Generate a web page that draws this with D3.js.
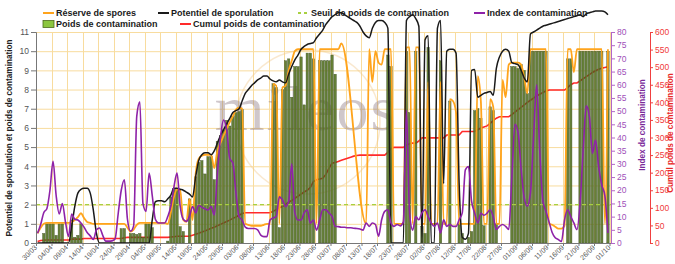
<!DOCTYPE html>
<html>
<head>
<meta charset="utf-8">
<script src="https://cdn.jsdelivr.net/npm/d3@7"></script>
<style>
  body { margin: 0; background: #fff; }
  svg { display: block; font-family: "Liberation Sans", Arial, sans-serif; }
</style>
</head>
<body>
<svg id="chart" width="675" height="264"></svg>
<script>
// daily values from 30/03 (index 0) to 30/09 (index 184)
const startLabel = '30/03/2015';
const tickLabels = ['30/03','04/04','09/04','14/04','19/04','24/04','29/04','04/05','09/05','14/05',
  '19/05','24/05','29/05','03/06','08/06','13/06','18/06','23/06','28/06','03/07',
  '08/07','13/07','18/07','23/07','28/07','02/08','07/08','12/08','17/08','22/08',
  '27/08','01/09','06/09','11/09','16/09','21/09','26/09','01/10'];

const reserveSpores = [
  0.5, 0.8, 1.0, 1.05, 1.05, 1.05, 1.05, 1.05, 1.05, 1.05,
  1.05, 1.1, 1.2, 1.35, 1.55, 1.3, 1.1, 1.05, 1.0, 1.0,
  1.0, 1.0, 1.0, 1.0, 1.0, 1.0, 1.0, 1.0, 1.0, 0.8,
  0.6, 0.7, 0.95, 1.05, 1.05, 1.05, 1.05, 1.05, 1.05, 1.05,
  1.05, 1.05, 1.0, 1.6, 2.4, 2.8, 2.75, 1.2, 1.1, 2.3,
  1.2, 3.6, 4.4, 4.55, 4.6, 4.6, 4.6, 3.9, 4.8, 5.2,
  5.6, 5.95, 6.3, 6.6, 6.95, 7.05, 7.0, 1.0, 0.95, 0.9,
  0.9, 0.9, 0.9, 0.95, 1.0, 1.0, 8.3, 8.2, 1.0, 8.1,
  8.2, 9.0, 9.5, 10.0, 10.1, 10.1, 10.1, 10.1, 10.1, 10.1,
  1.0, 10.1, 10.1, 10.1, 10.1, 10.1, 10.1, 10.1, 10.4, null,
  null, null, null, null, null, null, 1.0, 10.1, 8.4, 10.0,
  9.4, 9.3, 10.1, 10.1, 10.1, 1.0, 1.0, 1.0, 1.0, 10.2,
  10.2, 1.0, 10.2, 10.2, 1.0, 1.0, 8.4, 1.0, 1.0, 1.0,
  8.4, 1.0, 1.0, 7.5, 7.4, 6.8, 1.0, 1.0, 1.0, 1.0,
  1.0, 1.0, 8.7, 7.4, 1.0, 1.0, 7.5, 7.1, 1.0, 1.0,
  8.5, 7.6, 9.3, 9.4, 9.4, 9.4, 9.3, 8.6, 7.8, 10.1,
  10.1, 10.1, 10.1, 10.1, 10.1, 1.0, 0.95, 0.85, 0.75, 0.75,
  0.9, 10.1, 10.1, 8.9, 10.1, 10.1, 10.1, 10.1, 10.1, 10.1,
  10.1, 10.1, 10.1, 1.0, 10.1
];

const potentielSporulation = [
  0, 0, 0, 0, 0, 0, 0, 0, 0, 0,
  0, 0.85, 1.9, 2.6, 2.8, 2.85, 2.85, 2.6, 1.7, 0.5,
  0, 0, 0, 0, 0, 0, 0, 0, 0, 0,
  0, 0, 0, 0, 0, 0, 0, 1.2, 2.15, 2.2,
  2.2, 2.15, 2.3, 2.5, 2.85, 2.85, 2.8, 2.75, 2.65, 2.55,
  2.4, 3.45, 4.3, 4.6, 4.7, 4.7, 4.6, 4.8, 5.2, 5.6,
  5.9, 6.2, 6.5, 6.8, 6.9, 7.0, 7.4, 7.8, 8.0, 8.2,
  8.35, 8.5, 8.6, 8.7, 8.7, 8.55, 8.45, 8.4, 8.5, 8.4,
  8.35, 8.8, 9.2, 9.55, 9.8, 10.1, 10.25, 10.35, 10.4, 10.45,
  10.7, 10.9, 11.1, 11.4, 11.6, 11.8, 11.9, 12.0, 12.0, 11.9,
  11.8, 11.7, 11.6, 11.5, 11.3, 11.0, 10.8, 10.7, 11.2, 11.5,
  11.6, 11.6, 11.5, 11.2, 0, 0, 0, 0, 0, 11.6,
  11.8, 11.9, 11.7, 11.3, 0, 10.6, 10.8, 0, 0, 11.2,
  11.6, 3.1, 10.0, 10.1, 10.1, 9.9, 3.1, 0.3, 0.2, 0.5,
  9.0, 9.05, 7.6, 7.7, 7.8, 7.85, 7.9, 7.7, 9.1, 9.7,
  10.0, 10.1, 10.0, 9.4, 9.35, 9.3, 9.0, 8.6, 8.4, 10.9,
  11.0, 11.1, 11.2, 11.3, 11.35, 11.4, 11.45, 11.5, 11.55, 11.6,
  11.65, 11.7, 11.75, 11.8, 11.85, 11.9, 11.8, 11.95, 12.0, 12.05,
  12.1, 12.1, 12.1, 12.05, 11.9
];

const poidsContamination = [
  0, 0, 0.5, 1.0, 1.0, 1.0, 0.4, 1.0, 1.0, 0,
  0, 1.2, 0.3, 0.4, 1.0, 0, 0, 0, 0, 0,
  0, 0, 0, 0, 0, 0, 0, 0.75, 0.75, 0,
  0.5, 0.5, 0.45, 0.5, 0.3, 1.0, 1.0, 0.8, 0, 0,
  0, 0, 0.1, 2.4, 2.85, 2.8, 0.85, 0.6, 0, 2.3,
  0, 3.45, 4.2, 4.3, 3.6, 4.5, 4.5, 3.3, 5.3, 5.6,
  5.9, 6.4, 6.1, 6.6, 6.8, 6.85, 6.95, 0, 0, 0,
  0, 0, 0, 0, 0, 0, 8.3, 8.1, 0.8, 8.0,
  9.5, 9.6, 7.6, 9.2, 9.2, 9.7, 7.2, 9.9, 9.9, 9.6,
  0, 9.5, 9.5, 9.5, 9.5, 9.8, 8.8, 0, 0, 0,
  0, 0, 0, 0, 0, 0, 0, 0, 0, 0,
  0, 0, 0, 9.8, 9.2, 0, 0, 0, 0, 10.0,
  6.8, 0, 10.0, 0, 0.85, 0.5, 10.2, 0, 0, 0,
  9.5, 0, 0, 7.4, 0, 0, 1.0, 0.5, 0, 0.3,
  0.6, 6.9, 7.0, 6.5, 0.9, 0, 7.1, 6.9, 1.0, 0,
  0, 0, 0, 9.2, 9.2, 9.1, 9.3, 9.0, 7.8, 10.0,
  10.0, 10.0, 10.0, 10.0, 10.0, 0, 0, 0, 0, 0,
  0, 9.6, 9.6, 0, 0, 10.0, 10.0, 10.0, 10.0, 10.0,
  10.0, 10.0, 10.0, 0, 10.0
];

const indexContamination = [
  3.7, 7, 11.5, 13, 20, 31, 18, 11, 15, 8,
  2.5, 11, 9, 8.7, 7.6, 6, 4, 2.7, 1.3, 5,
  5.7, 3, 0.7, 0.7, 0.8, 1.5, 11, 20, 24, 9,
  4.5, 6.5, 48, 53.5, 15, 12, 26.5, 18, 9, 7.6,
  7.6, 7.6, 10, 14, 21.3, 26.5, 14, 9, 8.2, 10,
  13.8, 11.4, 14.4, 13.5, 13, 12.5, 13.8, 10.6, 26, 40,
  46.6, 43, 32, 30.3, 19, 10, 8.7, 6, 5.5, 5.5,
  5.5, 5, 3, 2.4, 2.4, 8.7, 9.5, 10, 17.5, 16.3,
  13.8, 15.7, 30, 11.4, 8.7, 8.7, 11.4, 12.6, 7.5, 8.7,
  4.9, 8.7, 12.6, 12.6, 11.4, 10.1, 6.3, 6.2, 6.0, 6.0,
  5.8, 5.8, 5.6, 5.5, 5.3, 4.9, 7.6, 6.3, 7.6, 7.0,
  2.6, 8.8, 12, 12.6, 7.6, 6.3, 7, 6.5, 8, 50.4,
  11.4, 4.9, 10, 8.8, 11.4, 12.6, 10, 7.6, 6.3, 7.6,
  3.8, 8.8, 6.3, 7, 6.3, 6.3, 8.8, 11.4, 27.7, 29,
  16, 11.4, 7.6, 11.3, 10.5, 11.3, 12.6, 10, 5.1, 6.3,
  7, 6.3, 5.1, 25, 45, 42, 28, 17, 14, 19,
  40, 60, 35, 16, 12, 8, 4, 2, 1.3, 0.6,
  8.8, 12.6, 10, 7.6, 5.1, 15, 35, 52, 48, 34,
  39, 28.9, 22, 18, 3.8
];

const cumulPoids = [
  4, 7, 8, 8.5, 8.5, 8.5, 8.5, 8.5, 8.5, 8.5,
  8.5, 11, 11, 11, 11, 13, 13, 13, 13, 13,
  13, 13, 13, 13, 13, 13, 13, 13, 15, 16,
  16, 16, 16, 16, 16, 16, 16, 16, 16, 16,
  16, 16, 16, 17, 18, 19, 19, 19, 19, 19,
  22, 25, 28, 31, 34, 38, 42, 45, 49, 53,
  57, 61, 65, 70, 74, 79, 84, 86, 86, 86,
  86, 86, 86, 86, 86, 86, 90, 95, 100, 104,
  110, 116, 121, 127, 133, 139, 145, 150, 158, 175,
  180, 182, 184, 195, 212, 227, 229, 232, 235, 238,
  241, 244, 247, 249, 250, 250, 250, 250, 250, 250,
  250, 250, 250, 258, 268, 272, 272, 272, 272, 278,
  282, 284, 284, 290, 299, 299, 299, 299, 299, 299,
  299, 299, 307, 307, 307, 307, 307, 317, 317, 317,
  317, 317, 322, 327, 330, 333, 340, 348, 355, 359,
  359, 359, 359, 365, 372, 379, 386, 393, 400, 406,
  412, 418, 423, 428, 432, 435, 435, 435, 435, 435,
  435, 442, 450, 455, 455, 461, 467, 473, 479, 485,
  490, 494, 497, 499, 501
];

const seuilPoids = 2;

const leftTicks = d3.range(0, 12, 1);
const indexTicks = d3.range(0, 85, 5);
const cumulTicks = d3.range(0, 650, 50);

// ---------------------------------------------------------------
const svg = d3.select('#chart');
const parseDate = d3.utcParse('%d/%m/%Y');
const start = parseDate(startLabel);
const days = poidsContamination.map((_, i) => d3.utcDay.offset(start, i));
const tickDates = tickLabels.map((l, i) => d3.utcDay.offset(start, i * 5));

const plotL = 36, plotT = 32, plotB = 243;
const x = d3.scaleUtc()
    .domain([start, tickDates[tickDates.length - 1]])
    .range([plotL, 609.5]);
const plotR = 611;
const dayW = x(days[1]) - x(days[0]);
const mid = d => x(d3.utcHour.offset(d, 12));

const yL = d3.scaleLinear().domain([0, 11]).range([plotB, plotT]);
const yI = d3.scaleLinear().domain([0, 80]).range([plotB, plotT]);
const yC = d3.scaleLinear().domain([0, 600]).range([plotB, plotT]);

const gridColor = '#f8dc9e';

// grid
const grid = svg.append('g');
grid.selectAll('line.h')
    .data(leftTicks.slice(1))
    .join('line')
    .attr('x1', plotL).attr('x2', plotR)
    .attr('y1', d => yL(d) + 0.5).attr('y2', d => yL(d) + 0.5)
    .attr('stroke', gridColor).attr('stroke-width', 1);
grid.selectAll('line.v')
    .data(tickDates.slice(1))
    .join('line')
    .attr('x1', d => Math.round(x(d)) + 0.5).attr('x2', d => Math.round(x(d)) + 0.5)
    .attr('y1', plotT).attr('y2', plotB)
    .attr('stroke', gridColor).attr('stroke-width', 1);

// watermark
const wm = svg.append('g').attr('opacity', 0.4);
wm.append('circle')
    .attr('cx', 308).attr('cy', 122).attr('r', 72)
    .attr('fill', 'none').attr('stroke', '#f2c88a').attr('stroke-width', 1.5);
wm.append('text')
    .attr('x', 306).attr('y', 130)
    .attr('text-anchor', 'middle')
    .attr('font-family', '"Liberation Serif", "DejaVu Serif", serif')
    .attr('font-size', 64)
    .attr('letter-spacing', 2)
    .attr('fill', '#8a7480')
    .text('mileos');

// cumul (behind bars)
const lineOf = (vals, yScale, curve) => d3.line()
    .x(d => mid(d.date))
    .y(d => yScale(d.v))
    .curve(curve)(vals.map((v, i) => ({ date: days[i], v })).filter(d => d.v !== null));

svg.append('path')
    .attr('d', lineOf(cumulPoids, yC, d3.curveLinear))
    .attr('fill', 'none').attr('stroke', '#ff2a2a').attr('stroke-width', 1.6);

// bars
svg.append('g')
    .selectAll('rect')
    .data(poidsContamination.map((v, i) => ({ date: days[i], v })).filter(d => d.v > 0))
    .join('rect')
    .attr('x', d => x(d.date) + 0.35)
    .attr('width', dayW - 0.7)
    .attr('y', d => yL(d.v))
    .attr('height', d => yL(0) - yL(d.v))
    .attr('fill', '#5a7628')
    .attr('stroke', '#34461a')
    .attr('stroke-width', 0.4)
    .attr('opacity', 0.92);

// seuil
svg.append('line')
    .attr('x1', plotL).attr('x2', plotR)
    .attr('y1', yL(seuilPoids)).attr('y2', yL(seuilPoids))
    .attr('stroke', '#a8d040').attr('stroke-width', 1.2)
    .attr('stroke-dasharray', '4,3');

svg.append('path')
    .attr('d', lineOf(reserveSpores, yL, d3.curveMonotoneX))
    .attr('fill', 'none').attr('stroke', '#ffa41c').attr('stroke-width', 1.8);

svg.append('path')
    .attr('d', lineOf(potentielSporulation, yL, d3.curveMonotoneX))
    .attr('fill', 'none').attr('stroke', '#1a1a1a').attr('stroke-width', 1.5);

svg.append('path')
    .attr('d', lineOf(indexContamination, yI, d3.curveMonotoneX))
    .attr('fill', 'none').attr('stroke', '#8e22a8').attr('stroke-width', 1.6);

// axes
const axisLeft = svg.append('g')
    .attr('transform', `translate(${plotL},0)`)
    .call(d3.axisLeft(yL).tickValues(leftTicks).tickSize(5).tickPadding(2).tickFormat(d3.format('d')));
axisLeft.select('.domain').attr('stroke', '#777');
axisLeft.selectAll('.tick line').attr('stroke', '#777');
axisLeft.selectAll('text').attr('fill', '#555').attr('font-size', 8.5)
    .attr('font-family', '"Liberation Sans", Arial, sans-serif');

const axisIdx = svg.append('g')
    .attr('transform', `translate(${plotR},0)`)
    .call(d3.axisRight(yI).tickValues(indexTicks).tickSize(4).tickPadding(2));
axisIdx.select('.domain').attr('stroke', '#b266c8');
axisIdx.selectAll('.tick line').attr('stroke', '#b266c8');
axisIdx.selectAll('text').attr('fill', '#a050b8').attr('font-size', 8.5)
    .attr('font-family', '"Liberation Sans", Arial, sans-serif');

const axisCum = svg.append('g')
    .attr('transform', `translate(650,0)`)
    .call(d3.axisRight(yC).tickValues(cumulTicks).tickSize(3).tickPadding(2));
axisCum.select('.domain').attr('stroke', '#f04040');
axisCum.selectAll('.tick line').attr('stroke', '#f04040');
axisCum.selectAll('text').attr('fill', '#f03a3a').attr('font-size', 8.5)
    .attr('font-family', '"Liberation Sans", Arial, sans-serif');

// bottom axis
const axisB = svg.append('g')
    .attr('transform', `translate(0,${plotB})`)
    .call(d3.axisBottom(x).tickValues(tickDates).tickSize(3).tickFormat((d, i) => tickLabels[i]));
axisB.select('.domain').attr('stroke', '#777').attr('d', `M${plotL},0.5H${plotR}`);
axisB.selectAll('.tick line').attr('stroke', '#777');
axisB.selectAll('text')
    .attr('fill', '#555').attr('font-size', 7)
    .attr('font-family', '"Liberation Sans", Arial, sans-serif')
    .attr('text-anchor', 'end')
    .attr('x', 0).attr('y', 0).attr('dy', 0)
    .attr('transform', 'translate(1,5) rotate(-45)');

// axis titles
svg.append('text')
    .attr('transform', 'translate(12,138) rotate(-90)')
    .attr('text-anchor', 'middle')
    .attr('font-size', 8.2).attr('font-weight', 'bold').attr('fill', '#222')
    .text('Potentiel de sporulation et poids de contamination');
svg.append('text')
    .attr('transform', 'translate(645,125) rotate(-90)')
    .attr('text-anchor', 'middle')
    .attr('font-size', 8.2).attr('font-weight', 'bold').attr('fill', '#7a2a9a')
    .text('Index de contamination');
svg.append('text')
    .attr('transform', 'translate(673,133) rotate(-90)')
    .attr('text-anchor', 'middle')
    .attr('font-size', 8.2).attr('font-weight', 'bold').attr('fill', '#e82828')
    .text('Cumul poids de contamination');

// legend
const legend = [
  { label: 'Réserve de spores', type: 'line', color: '#ffa41c', x: 43, y: 13 },
  { label: 'Potentiel de sporulation', type: 'line', color: '#1a1a1a', x: 158, y: 13 },
  { label: 'Seuil de poids de contamination', type: 'dash', color: '#a8d040', x: 298, y: 13 },
  { label: 'Index de contamination', type: 'line', color: '#8e22a8', x: 474, y: 13 },
  { label: 'Poids de contamination', type: 'box', color: '#8cc63f', x: 43, y: 24 },
  { label: 'Cumul poids de contamination', type: 'line', color: '#ff2a2a', x: 180, y: 24 }
];
const lg = svg.append('g').selectAll('g').data(legend).join('g')
    .attr('transform', d => `translate(${d.x},${d.y})`);
lg.filter(d => d.type !== 'box').append('line')
    .attr('x1', 0).attr('x2', 11).attr('y1', 0).attr('y2', 0)
    .attr('stroke', d => d.color).attr('stroke-width', 2)
    .attr('stroke-dasharray', d => d.type === 'dash' ? '3,3' : null);
lg.filter(d => d.type === 'box').append('rect')
    .attr('x', 0).attr('y', -3.5).attr('width', 11).attr('height', 7)
    .attr('fill', d => d.color).attr('stroke', '#4c6a1c').attr('stroke-width', 0.8);
lg.append('text')
    .attr('x', 13).attr('y', 3)
    .attr('font-size', 9).attr('font-weight', 'bold').attr('fill', '#1a1a1a')
    .text(d => d.label);
</script>
</body>
</html>
